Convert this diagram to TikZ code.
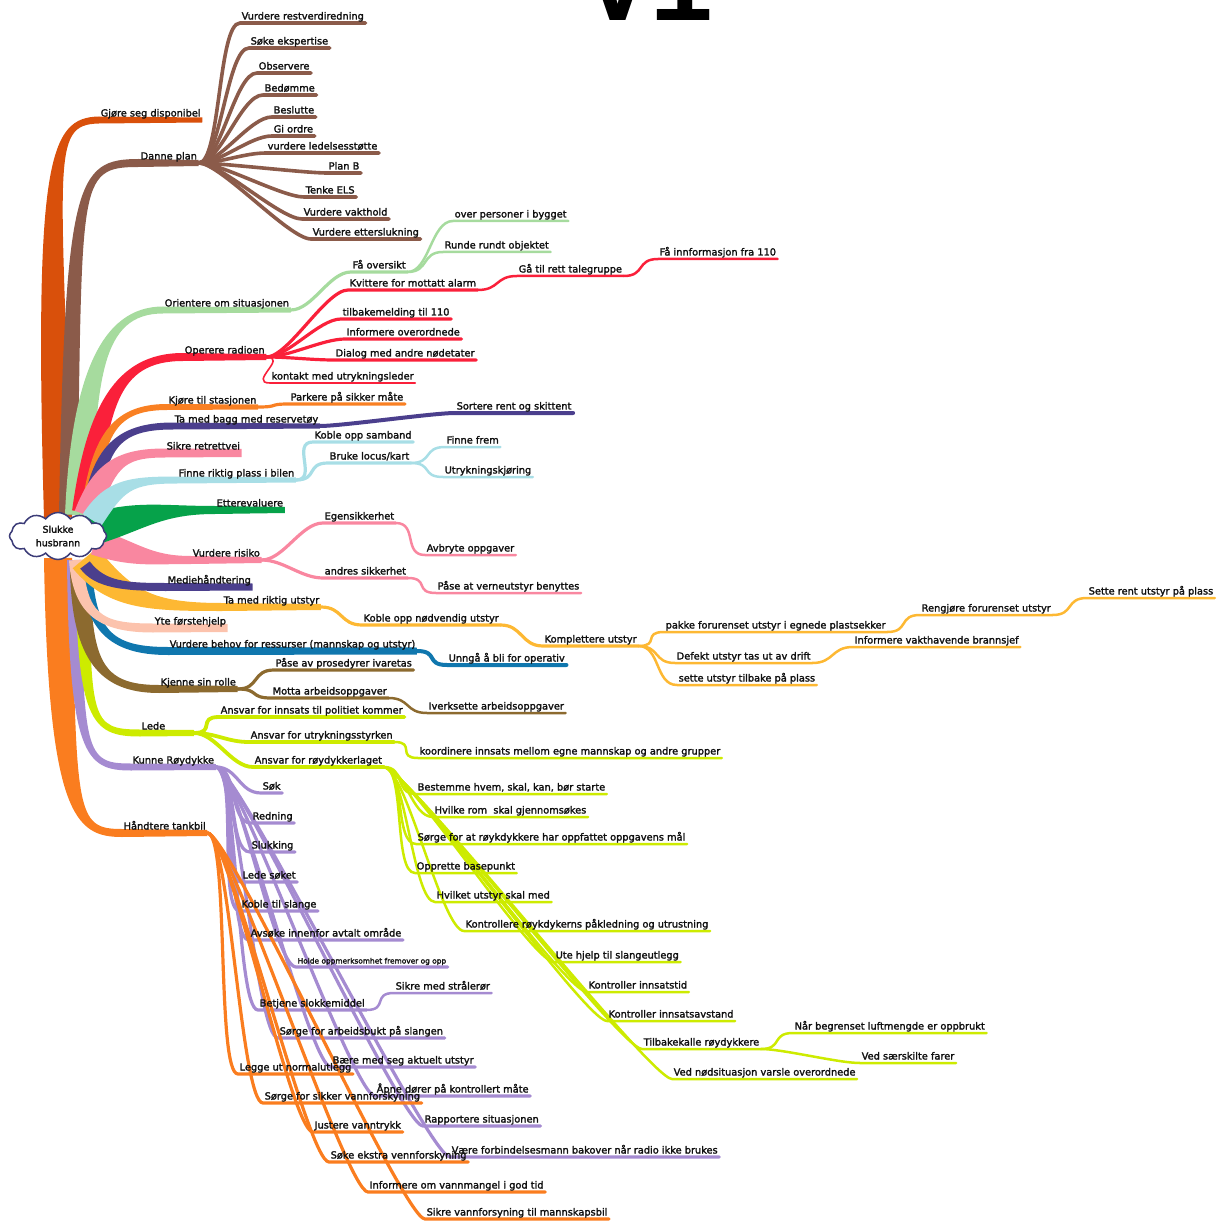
\documentclass[tikz,border=0pt]{standalone}
\usepackage{fontspec}
\setmainfont{DejaVu Sans}
\setmonofont{Liberation Mono}
\newfontfamily\lblfont{DejaVu Sans}[FakeBold=2]
\usetikzlibrary{calc,shapes.symbols}

\definecolor{cDorange}{HTML}{D9500B}
\definecolor{cBrown}{HTML}{8B5B4A}
\definecolor{cLgreen}{HTML}{A6DB9E}
\definecolor{cRed}{HTML}{FA203A}
\definecolor{cOrange}{HTML}{F98023}
\definecolor{cNavy}{HTML}{4B3F8D}
\definecolor{cPink}{HTML}{F987A0}
\definecolor{cCyan}{HTML}{A8DEE6}
\definecolor{cGreen}{HTML}{06A24A}
\definecolor{cYellow}{HTML}{FDB833}
\definecolor{cPeach}{HTML}{FCC3AD}
\definecolor{cBlue}{HTML}{1077AE}
\definecolor{cOlive}{HTML}{8C6A2F}
\definecolor{cLime}{HTML}{CDEB00}
\definecolor{cPurple}{HTML}{A58BD1}
\definecolor{cOrangeB}{HTML}{FA7D1F}
\definecolor{cCloud}{HTML}{3C3C78}
\definecolor{cText}{HTML}{101010}

\pgfdeclarelayer{bg}
\pgfsetlayers{bg,main}

\tikzset{
  lbl/.style={anchor=south west, inner xsep=1.5pt, inner ysep=1.2pt,
    text height=7.4pt, text depth=2.1pt, font=\lblfont\fontsize{9.8}{11}\selectfont, text=cText},
  twig/.style={draw=#1, line width=3.2pt, line cap=round},
  twigs/.style={draw=#1, line width=2.5pt, line cap=round},
}

% curved connector from a fan point into the underline of a label
\newcommand\twiglink[3]{\draw[#1] (#2) .. controls +(22,0) and +(-22,0) .. (#3.south west) -- (#3.south east);}

% tapered main branch: colour, start, control 1, control 2, end of bend,
% end of underline, half width at start, at the bend, at the end
\newcommand\trunkfill[9]{\fill[#1]
  ($(#2)!#7!90:(#3)$) .. controls ($(#3)!#7!-90:(#2)$) and ($(#4)!#8!90:(#5)$) .. ($(#5)!#8!-90:(#4)$)
  -- ($(#6)!#9!-90:(#5)$) -- ($(#6)!#9!90:(#5)$)
  -- ($(#5)!#8!90:(#4)$) .. controls ($(#4)!#8!-90:(#5)$) and ($(#3)!#7!90:(#2)$) .. ($(#2)!#7!-90:(#3)$)
  -- cycle;}

\begin{document}
\begin{tikzpicture}[x=1pt,y=-1pt]
\useasboundingbox (0,0) rectangle (1226,1222);

\node[font=\ttfamily\bfseries\fontsize{108}{108}\selectfont, anchor=base, inner sep=0pt] (title) at (650,21) {V1};

\node[cloud, cloud puffs=12, cloud puff arc=110, aspect=2.1, draw=cCloud, fill=white,
  line width=1.5pt, minimum width=97pt, minimum height=47pt, inner sep=0pt, align=center,
  font=\lblfont\fontsize{9.4}{13.5}\selectfont, text=cText] (root) at (58,536) {Slukke\\husbrann};

% origins of the main branches, hidden behind the centre
\coordinate (o1) at (58,518);
\coordinate (o2) at (68,515);
\coordinate (o3) at (78,515);
\coordinate (o4) at (84,512);
\coordinate (o5) at (88,512);
\coordinate (o6) at (90,512);
\coordinate (o7) at (86,515);
\coordinate (o8) at (92,520);
\coordinate (o9) at (90,530);
\coordinate (o10) at (95,542);
\coordinate (o11) at (85,565);
\coordinate (o12) at (85,558);
\coordinate (o13) at (76,560);
\coordinate (o14) at (86,568);
\coordinate (o15) at (80,570);
\coordinate (o16) at (82,560);
\coordinate (o17) at (74,560);
\coordinate (o18) at (58,558);
\coordinate (ledefan) at (194,733);

% main topics
\node[lbl] (gjore) at (99,120) {Gjøre seg disponibel};
\node[lbl] (danne) at (139,163) {Danne plan};
\node[lbl] (orient) at (163,310) {Orientere om situasjonen};
\node[lbl] (operere) at (183,357) {Operere radioen};
\node[lbl] (kjore) at (167,407) {Kjøre til stasjonen};
\node[lbl] (bagg) at (173,426) {Ta med bagg med reservetøy};
\node[lbl] (sikre) at (165,453) {Sikre retrettvei};
\node[lbl] (finne) at (177,480) {Finne riktig plass i bilen};
\node[lbl] (etter) at (215,510) {Etterevaluere};
\node[lbl] (risiko) at (191,560) {Vurdere risiko};
\node[lbl] (media) at (166,587) {Mediehåndtering};
\node[lbl] (riktig) at (222,607) {Ta med riktig utstyr};
\node[lbl] (yte) at (153,628) {Yte førstehjelp};
\node[lbl] (behov) at (168,651) {Vurdere behov for ressurser (mannskap og utstyr)};
\node[lbl] (kjenne) at (159,689) {Kjenne sin rolle};
\node[lbl] (lede) at (140,733) {Lede};
\node[lbl] (kunne) at (131,767) {Kunne Røydykke};
\node[lbl] (tank) at (122,833) {Håndtere tankbil};

% Danne plan
\node[lbl] (dp1) at (240,23) {Vurdere restverdiredning};
\node[lbl] (dp2) at (249,48) {Søke ekspertise};
\node[lbl] (dp3) at (257,73) {Observere};
\node[lbl] (dp4) at (263,95) {Bedømme};
\node[lbl] (dp5) at (272,117) {Beslutte};
\node[lbl] (dp6) at (272,136) {Gi ordre};
\node[lbl] (dp7) at (266,153) {vurdere ledelsesstøtte};
\node[lbl] (dp8) at (327,173) {Plan B};
\node[lbl] (dp9) at (304,197) {Tenke ELS};
\node[lbl] (dp10) at (302,219) {Vurdere vakthold};
\node[lbl] (dp11) at (311,239) {Vurdere etterslukning};

% Orientere om situasjonen
\node[lbl] (oo1) at (351,272) {Få oversikt};
\node[lbl] (oo2) at (453,221) {over personer i bygget};
\node[lbl] (oo3) at (443,252) {Runde rundt objektet};

% Operere radioen
\node[lbl] (or1) at (348,290) {Kvittere for mottatt alarm};
\node[lbl] (or2) at (517,276) {Gå til rett talegruppe};
\node[lbl] (or3) at (658,259) {Få innformasjon fra 110};
\node[lbl] (or4) at (341,319) {tilbakemelding til 110};
\node[lbl] (or5) at (345,339) {Informere overordnede};
\node[lbl] (or6) at (334,360) {Dialog med andre nødetater};
\node[lbl] (or7) at (270,383) {kontakt med utrykningsleder};

\node[lbl] (kj1) at (289,404) {Parkere på sikker måte};
\node[lbl] (bg1) at (455,413) {Sortere rent og skittent};

% Finne riktig plass i bilen
\node[lbl] (fi1) at (313,442) {Koble opp samband};
\node[lbl] (fi2) at (328,463) {Bruke locus/kart};
\node[lbl] (fi3) at (445,447) {Finne frem};
\node[lbl] (fi4) at (443,477) {Utrykningskjøring};

% Vurdere risiko
\node[lbl] (ri1) at (323,523) {Egensikkerhet};
\node[lbl] (ri2) at (425,555) {Avbryte oppgaver};
\node[lbl] (ri3) at (323,578) {andres sikkerhet};
\node[lbl] (ri4) at (436,593) {Påse at verneutstyr benyttes};

% Ta med riktig utstyr
\node[lbl] (ru1) at (362,625) {Koble opp nødvendig utstyr};
\node[lbl] (ru2) at (543,646) {Komplettere utstyr};
\node[lbl] (ru3) at (664,632) {pakke forurenset utstyr i egnede plastsekker};
\node[lbl] (ru4) at (920,615) {Rengjøre forurenset utstyr};
\node[lbl] (ru5) at (1087,598) {Sette rent utstyr på plass};
\node[lbl] (ru6) at (675,663) {Defekt utstyr tas ut av drift};
\node[lbl] (ru7) at (853,647) {Informere vakthavende brannsjef};
\node[lbl] (ru8) at (677,685) {sette utstyr tilbake på plass};

\node[lbl] (be1) at (447,665) {Unngå å bli for operativ};

% Kjenne sin rolle
\node[lbl] (kr1) at (274,670) {Påse av prosedyrer ivaretas};
\node[lbl] (kr2) at (271,698) {Motta arbeidsoppgaver};
\node[lbl] (kr3) at (427,713) {Iverksette arbeidsoppgaver};

% Lede
\node[lbl] (le1) at (219,717) {Ansvar for innsats til politiet kommer};
\node[lbl] (le2) at (249,742) {Ansvar for utrykningsstyrken};
\node[lbl] (le3) at (418,758) {koordinere innsats mellom egne mannskap og andre grupper};
\node[lbl] (le4) at (253,767) {Ansvar for røydykkerlaget};
\node[lbl] (lr1) at (416,794) {Bestemme hvem, skal, kan, bør starte};
\node[lbl] (lr2) at (433,817) {Hvilke rom~ skal gjennomsøkes};
\node[lbl] (lr3) at (416,844) {Sørge for at røykdykkere har oppfattet oppgavens mål};
\node[lbl] (lr4) at (415,873) {Opprette basepunkt};
\node[lbl] (lr5) at (435,902) {Hvilket utstyr skal med};
\node[lbl] (lr6) at (464,931) {Kontrollere røykdykerns påkledning og utrustning};
\node[lbl] (lr7) at (554,962) {Ute hjelp til slangeutlegg};
\node[lbl] (lr8) at (587,992) {Kontroller innsatstid};
\node[lbl] (lr9) at (607,1021) {Kontroller innsatsavstand};
\node[lbl] (lr10) at (642,1049) {Tilbakekalle røydykkere};
\node[lbl] (lr11) at (793,1033) {Når begrenset luftmengde er oppbrukt};
\node[lbl] (lr12) at (860,1063) {Ved særskilte farer};
\node[lbl] (lr13) at (672,1079) {Ved nødsituasjon varsle overordnede};

% Kunne Røydykke
\node[lbl] (kd1) at (261,793) {Søk};
\node[lbl] (kd2) at (251,823) {Redning};
\node[lbl] (kd3) at (250,852) {Slukking};
\node[lbl] (kd4) at (241,882) {Lede søket};
\node[lbl] (kd5) at (240,911) {Koble til slange};
\node[lbl] (kd6) at (249,940) {Avsøke innenfor avtalt område};
\node[lbl, font=\lblfont\fontsize{7.4}{9}\selectfont] (kd7) at (296,967) {Holde oppmerksomhet fremover og opp};
\node[lbl] (kd8) at (258,1010) {Betjene slokkemiddel};
\node[lbl] (kd9) at (394,993) {Sikre med strålerør};
\node[lbl] (kd10) at (278,1038) {Sørge for arbeidsbukt på slangen};
\node[lbl] (kd11) at (331,1067) {Bære med seg aktuelt utstyr};
\node[lbl] (kd12) at (375,1096) {Åpne dører på kontrollert måte};
\node[lbl] (kd13) at (423,1126) {Rapportere situasjonen};
\node[lbl] (kd14) at (450,1157) {Være forbindelsesmann bakover når radio ikke brukes};

% Håndtere tankbil
\node[lbl] (tk1) at (238,1074) {Legge ut normalutlegg};
\node[lbl] (tk2) at (263,1103) {Sørge for sikker vannforskyning};
\node[lbl] (tk3) at (313,1132) {Justere vanntrykk};
\node[lbl] (tk4) at (329,1162) {Søke ekstra vennforskyning};
\node[lbl] (tk5) at (368,1192) {Informere om vannmangel i god tid};
\node[lbl] (tk6) at (425,1219) {Sikre vannforsyning til mannskapsbil};

\begin{pgfonlayer}{bg}
% second and deeper levels
\foreach \c in {dp1,dp2,dp3,dp4,dp5,dp6,dp7,dp8,dp9,dp10,dp11}{\twiglink{twig=cBrown, line width=3.6pt}{danne.south east}{\c}}
\twiglink{twig=cLgreen}{orient.south east}{oo1}
\twiglink{twigs=cLgreen}{oo1.south east}{oo2}
\twiglink{twigs=cLgreen}{oo1.south east}{oo3}
\foreach \c in {or1,or4,or5,or6}{\twiglink{twig=cRed}{operere.south east}{\c}}
\twiglink{twigs=cRed, line width=1.6pt}{operere.south east}{or7}
\twiglink{twigs=cRed}{or1.south east}{or2}
\twiglink{twigs=cRed}{or2.south east}{or3}
\twiglink{twig=cOrange}{kjore.south east}{kj1}
\twiglink{twig=cNavy, line width=4pt}{bagg.south east}{bg1}
\twiglink{twig=cCyan}{finne.south east}{fi1}
\twiglink{twig=cCyan}{finne.south east}{fi2}
\twiglink{twigs=cCyan}{fi2.south east}{fi3}
\twiglink{twigs=cCyan}{fi2.south east}{fi4}
\twiglink{twig=cPink}{risiko.south east}{ri1}
\twiglink{twig=cPink}{risiko.south east}{ri3}
\twiglink{twigs=cPink}{ri1.south east}{ri2}
\twiglink{twigs=cPink}{ri3.south east}{ri4}
\twiglink{twig=cYellow}{riktig.south east}{ru1}
\twiglink{twig=cYellow}{ru1.south east}{ru2}
\twiglink{twigs=cYellow}{ru2.south east}{ru3}
\twiglink{twigs=cYellow}{ru2.south east}{ru6}
\twiglink{twigs=cYellow}{ru2.south east}{ru8}
\twiglink{twigs=cYellow}{ru3.south east}{ru4}
\twiglink{twigs=cYellow}{ru4.south east}{ru5}
\twiglink{twigs=cYellow}{ru6.south east}{ru7}
\twiglink{twig=cBlue, line width=4pt}{behov.south east}{be1}
\twiglink{twig=cOlive}{kjenne.south east}{kr1}
\twiglink{twig=cOlive}{kjenne.south east}{kr2}
\twiglink{twigs=cOlive}{kr2.south east}{kr3}
\foreach \c in {le1,le2,le4}{\twiglink{twig=cLime, line width=3.8pt}{ledefan}{\c}}
\twiglink{twigs=cLime}{le2.south east}{le3}
\foreach \c in {lr1,lr2,lr3,lr4,lr5,lr6,lr7,lr8,lr9,lr10,lr13}{\twiglink{twigs=cLime}{le4.south east}{\c}}
\twiglink{twigs=cLime}{lr10.south east}{lr11}
\twiglink{twigs=cLime}{lr10.south east}{lr12}
\foreach \c in {kd1,kd2,kd3,kd4,kd5,kd6,kd7,kd8,kd10,kd11,kd12,kd13,kd14}{\twiglink{twig=cPurple}{kunne.south east}{\c}}
\twiglink{twigs=cPurple}{kd8.south east}{kd9}
\foreach \c in {tk1,tk2,tk3,tk4,tk5,tk6}{\twiglink{twig=cOrangeB}{tank.south east}{\c}}

% main branches
\trunkfill{cOrangeB}{o18}{62,815}{75,833}{tank.south west}{tank.south east}{14pt}{4pt}{3pt}
\trunkfill{cPurple}{o17}{76,755}{85,767}{kunne.south west}{kunne.south east}{7pt}{3.5pt}{3pt}
\trunkfill{cLime}{o16}{84,720}{90,733}{lede.south west}{ledefan}{7pt}{3.5pt}{3pt}
\trunkfill{cOlive}{o15}{82,660}{100,689}{kjenne.south west}{kjenne.south east}{10pt}{4pt}{3pt}
\trunkfill{cBlue}{o14}{90,630}{110,651}{behov.south west}{behov.south east}{6pt}{4pt}{3.5pt}
\trunkfill{cPeach}{o13}{80,615}{100,628}{yte.south west}{yte.south east}{7pt}{4.5pt}{4pt}
\trunkfill{cYellow}{o12}{120,600}{150,607}{riktig.south west}{riktig.south east}{16pt}{4pt}{3pt}
\trunkfill{cNavy}{o11}{100,585}{125,587}{media.south west}{media.south east}{6pt}{4pt}{3.5pt}
\trunkfill{cPink}{o10}{135,555}{150,560}{risiko.south west}{risiko.south east}{13pt}{4pt}{3pt}
\trunkfill{cGreen}{o9}{140,515}{160,510}{etter.south west}{etter.south east}{16pt}{4pt}{3pt}
\trunkfill{cDorange}{o1}{48,160}{49,121}{gjore.south west}{gjore.south east}{14pt}{3.5pt}{2.5pt}
\trunkfill{cBrown}{o2}{74,180}{76,163}{danne.south west}{danne.south east}{9pt}{4pt}{3pt}
\trunkfill{cLgreen}{o3}{84,380}{100,310}{orient.south west}{orient.south east}{13pt}{3.5pt}{2.5pt}
\trunkfill{cRed}{o4}{98,410}{115,357}{operere.south west}{operere.south east}{12pt}{4pt}{3pt}
\trunkfill{cOrange}{o5}{98,440}{110,407}{kjore.south west}{kjore.south east}{7pt}{3pt}{2.5pt}
\trunkfill{cNavy}{o6}{100,450}{115,426}{bagg.south west}{bagg.south east}{8pt}{3.5pt}{2.5pt}
\trunkfill{cPink}{o7}{105,465}{120,453}{sikre.south west}{sikre.south east}{12pt}{4.5pt}{4pt}
\trunkfill{cCyan}{o8}{115,485}{130,480}{finne.south west}{finne.south east}{11pt}{3.5pt}{2.5pt}
\end{pgfonlayer}
\end{tikzpicture}
\end{document}
